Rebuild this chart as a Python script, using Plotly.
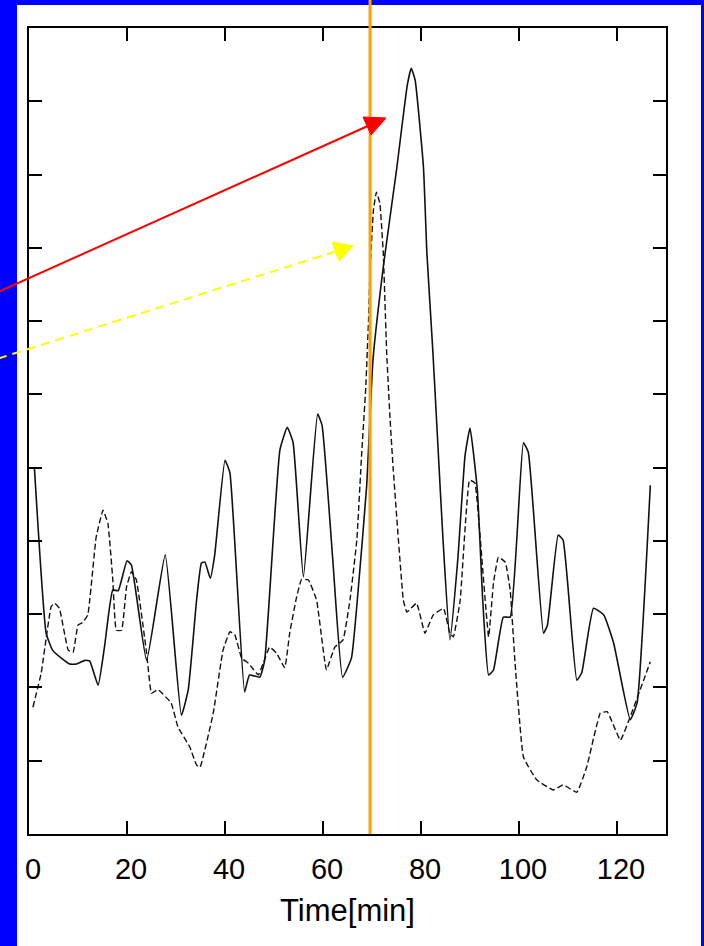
import plotly.graph_objects as go

# ---- data (time in minutes, arbitrary units) ----
solid_t = [1.1, 3.5, 4.8, 6.6, 8.3, 9.7, 11.4, 12.4, 14.1, 15.4, 17.1, 18.2, 20.0, 20.9,
           24.0, 27.8, 31.1, 32.5, 34.2, 35.2, 35.9, 37.0, 37.9, 40.0, 41.0, 44.0, 45.0,
           47.1, 48.1, 51.2, 52.7, 53.9, 56.0, 58.9, 59.8, 62.0, 64.0, 65.8, 67.0, 68.9,
           70.2, 72.4, 75.0, 77.2, 78.0, 78.8, 80.5, 81.2, 82.4, 83.5, 84.5, 85.9, 87.5,
           89.0, 90.0, 91.5, 92.6, 93.8, 94.8, 96.8, 98.2, 100.9, 101.9, 105.0, 105.8,
           108.0, 109.0, 111.8, 112.8, 115.2, 117.3, 119.3, 122.7, 124.1, 126.8]
solid_v = [5.00, 2.74, 2.51, 2.40, 2.32, 2.32, 2.37, 2.36, 2.03, 2.55, 3.33, 3.32, 3.73, 3.67,
           2.37, 3.81, 1.62, 1.97, 3.19, 3.70, 3.71, 3.49, 3.81, 5.10, 4.93, 1.94, 2.17,
           2.14, 2.37, 5.24, 5.55, 5.34, 3.51, 5.73, 5.58, 3.74, 2.14, 2.40, 3.19, 4.74,
           6.47, 7.79, 9.06, 10.22, 10.45, 10.29, 9.10, 7.93, 6.61, 5.24, 4.01, 2.65, 3.74,
           5.17, 5.54, 4.69, 3.19, 2.17, 2.24, 2.96, 2.96, 5.34, 5.21, 2.74, 2.85,
           4.08, 4.01, 2.10, 2.20, 3.08, 2.99, 2.61, 1.56, 1.79, 4.76]

dash_t = [0.8, 2.5, 4.5, 5.2, 6.2, 8.0, 9.0, 10.0, 11.0, 12.0, 13.7, 15.1, 16.1, 17.1, 17.8,
          18.9, 19.9, 20.9, 21.9, 24.0, 25.0, 26.3, 29.0, 30.4, 32.8, 34.2, 34.9, 37.6,
          39.6, 41.0, 42.0, 43.4, 44.8, 45.4, 46.8, 47.8, 49.1, 50.5, 52.2, 53.2, 54.6,
          55.6, 57.0, 58.7, 60.7, 62.4, 64.1, 65.5, 66.9, 67.9, 68.7, 69.3, 69.6, 70.3,
          70.9, 71.6, 72.3, 73.0, 73.7, 74.3, 76.4, 77.1, 79.1, 80.8, 82.5, 84.6, 85.9,
          86.6, 88.0, 89.9, 91.0, 92.0, 93.8, 94.8, 95.8, 97.2, 98.2, 99.2, 100.9, 103.6,
          107.0, 109.0, 111.8, 113.8, 116.6, 118.0, 120.7, 122.7, 126.8]
dash_v = [1.73, 2.20, 3.10, 3.15, 3.08, 2.51, 2.48, 2.85, 2.89, 2.99, 4.05, 4.42, 4.24, 3.47, 2.78,
          2.78, 3.37, 3.58, 3.47, 2.47, 1.92, 1.97, 1.79, 1.46, 1.19, 0.94, 0.91, 1.65,
          2.51, 2.76, 2.72, 2.40, 2.33, 2.28, 2.17, 2.33, 2.55, 2.47, 2.27, 2.74, 3.23,
          3.47, 3.47, 3.19, 2.24, 2.55, 2.65, 3.19, 4.01, 5.20, 6.06, 7.02, 7.70, 8.52,
          8.76, 8.61, 7.93, 6.56, 5.65, 5.01, 3.19, 3.03, 3.15, 2.74, 2.99, 3.08, 2.74,
          2.69, 3.19, 4.83, 4.79, 4.11, 2.69, 3.43, 3.78, 3.71, 3.33, 2.33, 1.05, 0.74,
          0.60, 0.67, 0.57, 0.91, 1.65, 1.67, 1.28, 1.60, 2.35]

x_ticks = [0, 20, 40, 60, 80, 100, 120]
y_ticks = [1, 2, 3, 4, 5, 6, 7, 8, 9, 10]
marker_time = 69.6

# ---- layout geometry ----
W, H = 704, 946
ML, MR, MT, MB = 29, 38, 28, 112
PW, PH = W - ML - MR, H - MT - MB


def px(xp):
    return (xp - ML) / PW


def py(yp):
    return (H - MB - yp) / PH


fig = go.Figure()
fig.add_trace(go.Scatter(x=solid_t, y=solid_v, mode="lines",
                         line=dict(color="#111111", width=1.6, shape="spline", smoothing=0.4),
                         showlegend=False))
fig.add_trace(go.Scatter(x=dash_t, y=dash_v, mode="lines",
                         line=dict(color="#111111", width=1.4, dash="6px,3px",
                                   shape="spline", smoothing=0.3),
                         showlegend=False))

shapes = []
# white page panel over blue background
shapes.append(dict(type="rect", xref="paper", yref="paper", layer="below",
                   x0=px(17), x1=px(701), y0=py(H + 5), y1=py(5),
                   fillcolor="white", line=dict(width=0)))
# orange vertical marker
shapes.append(dict(type="line", xref="x", yref="paper", x0=marker_time, x1=marker_time,
                   y0=0, y1=py(-2), line=dict(color="#FFA000", width=3)))
# red arrow
shapes.append(dict(type="line", xref="paper", yref="paper",
                   x0=px(-2), y0=py(292), x1=px(370), y1=py(125),
                   line=dict(color="red", width=2)))
shapes.append(dict(type="path", xref="paper", yref="paper",
                   path=f"M {px(386)},{py(118)} L {px(363)},{py(117)} L {px(371)},{py(135)} Z",
                   fillcolor="red", line=dict(color="red", width=1)))
# yellow dashed arrow
shapes.append(dict(type="line", xref="paper", yref="paper",
                   x0=px(-2), y0=py(358.6), x1=px(337), y1=py(251),
                   line=dict(color="yellow", width=2, dash="9px,6px")))
shapes.append(dict(type="path", xref="paper", yref="paper",
                   path=f"M {px(353)},{py(246)} L {px(332)},{py(242)} L {px(339)},{py(261)} Z",
                   fillcolor="yellow", line=dict(color="yellow", width=1)))

fig.update_layout(
    width=W, height=H,
    margin=dict(l=ML, r=MR, t=MT, b=MB, pad=0),
    paper_bgcolor="#0000FF",
    plot_bgcolor="white",
    shapes=shapes,
    font=dict(family="Liberation Sans, Arial, sans-serif", color="black"),
)
fig.update_xaxes(range=[0, 130], tickvals=x_ticks, ticktext=[str(v) for v in x_ticks],
                 ticks="inside", ticklen=13, tickwidth=2, tickcolor="black",
                 showline=True, linecolor="black", linewidth=2, mirror="ticks",
                 showgrid=False, zeroline=False,
                 tickfont=dict(size=29, color="black"), ticklabelshift=4, ticklabelstandoff=8,
                 title=dict(text="Time[min]", font=dict(size=31, color="black"), standoff=16))
fig.update_yaxes(range=[0, 11], tickvals=y_ticks, showticklabels=False,
                 ticks="inside", ticklen=13, tickwidth=2, tickcolor="black",
                 showline=True, linecolor="black", linewidth=2, mirror="ticks",
                 showgrid=False, zeroline=False)

fig.write_html("out.html")
